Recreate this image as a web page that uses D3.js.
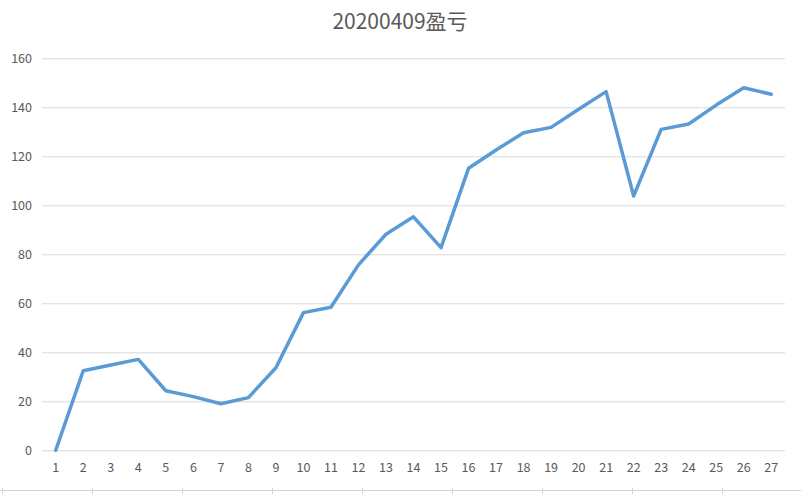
<!DOCTYPE html>
<html><head><meta charset="utf-8">
<script src="https://cdn.jsdelivr.net/npm/d3@7"></script>
<style>html,body{margin:0;padding:0;background:#fff;}svg{display:block;}</style>
</head><body>
<script>
const title = "20200409盈亏";
const categories = ["1","2","3","4","5","6","7","8","9","10","11","12","13","14","15","16","17","18","19","20","21","22","23","24","25","26","27"];
const values = [0, 32.5, 34.8, 37.1, 24.3, 21.9, 19.0, 21.5, 33.7, 56.2, 58.4, 75.7, 88.2, 95.3, 82.7, 115.1, 122.6, 129.6, 131.8, 139.2, 146.4, 103.8, 131.0, 133.2, 140.9, 148.0, 145.3];
const yTicks = [0, 20, 40, 60, 80, 100, 120, 140, 160];

const W = 801, H = 494;
const font = "'Noto Sans CJK SC', 'Open Sans', sans-serif";
const svg = d3.select("body").append("svg").attr("width", W).attr("height", H);

const x = d3.scaleBand().domain(categories).range([42, 785]);
const y = d3.scaleLinear().domain([0, 160]).range([450.3, 58.3]);

// spreadsheet cell borders at bottom
const cellX = d3.range(2, W, 90);
svg.append("line").attr("x1", 0).attr("x2", W).attr("y1", 490.5).attr("y2", 490.5)
  .attr("stroke", "#d4d4d4").attr("stroke-width", 1);
svg.selectAll("line.cell").data(cellX).join("line").attr("class", "cell")
  .attr("x1", d => d + 0.5).attr("x2", d => d + 0.5).attr("y1", 488).attr("y2", H)
  .attr("stroke", "#d4d4d4");

// gridlines
const yAxis = d3.axisLeft(y).tickValues(yTicks).tickSize(-(785 - 42)).tickPadding(10);
const gy = svg.append("g").attr("transform", "translate(42,0)").call(yAxis);
gy.select(".domain").remove();
gy.selectAll(".tick line").attr("stroke", "#d9d9d9").attr("stroke-width", 1);
gy.selectAll(".tick text").attr("fill", "#595959").attr("font-size", 12.5).attr("font-family", font);

const xAxis = d3.axisBottom(x).tickSize(0).tickPadding(13);
const gx = svg.append("g").attr("transform", "translate(0,450.3)").call(xAxis);
gx.select(".domain").remove();
gx.selectAll(".tick text").attr("fill", "#595959").attr("font-size", 12.5).attr("font-family", font);

const line = d3.line().x((d, i) => x(categories[i]) + x.bandwidth() / 2).y(d => y(d));
svg.append("path").datum(values).attr("d", line)
  .attr("fill", "none").attr("stroke", "#5b9bd5").attr("stroke-width", 3.5)
  .attr("stroke-linejoin", "round").attr("stroke-linecap", "round");

svg.append("text").attr("x", 400).attr("y", 29).attr("text-anchor", "middle")
  .attr("font-size", 21).attr("font-family", font).attr("fill", "#595959").text(title);
</script>
</body></html>
